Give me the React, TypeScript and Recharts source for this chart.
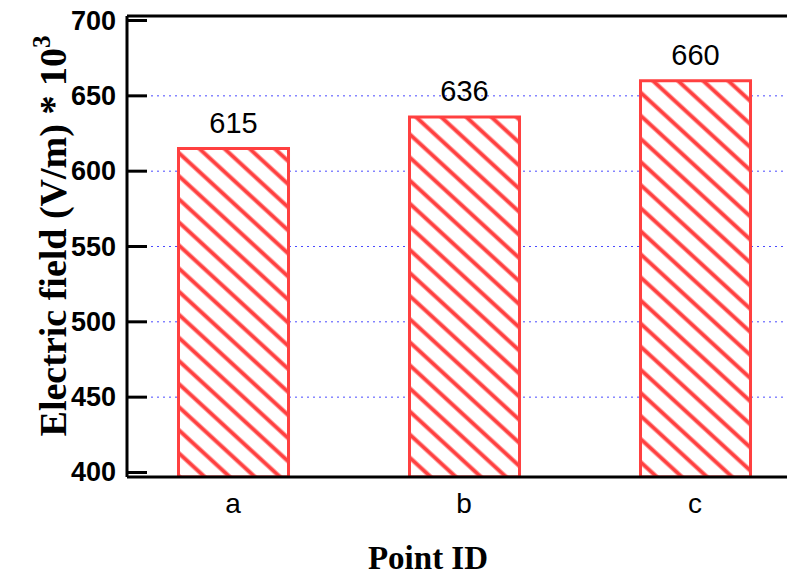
import React from 'react';
import { BarChart, Bar, XAxis, YAxis, CartesianGrid, ReferenceLine, LabelList } from 'recharts';

// values
const categories = ['a', 'b', 'c'];
const fieldValues = [615, 636, 660];
const yTicks = [400, 450, 500, 550, 600, 650, 700];
const gridValues = [450, 500, 550, 600, 650];

const data = categories.map((name, i) => ({ idx: i, name, value: fieldValues[i] }));

const RED = '#ff4040';
const SANS = '"Liberation Sans", Arial, sans-serif';
const SERIF = '"Liberation Serif", "Times New Roman", serif';

const YTick = (props: any) => {
  const { x, y, payload } = props;
  return (
    <g>
      <line x1={x} x2={x + 20} y1={y} y2={y} stroke="#000" strokeWidth={3} />
      <text x={x - 11} y={y} dy={9} textAnchor="end" fontFamily={SANS} fontWeight="bold" fontSize={27} fill="#000">
        {payload.value}
      </text>
    </g>
  );
};

const XTick = (props: any) => {
  const { x, y, payload } = props;
  return (
    <text x={x} y={y + 36} textAnchor="middle" fontFamily={SANS} fontSize={28} fill="#000">
      {categories[payload.value]}
    </text>
  );
};

export default function App() {
  return (
    <div style={{ position: 'absolute', left: 0, top: 0, width: 787, height: 576, overflow: 'hidden', background: '#fff' }}>
      <BarChart width={800} height={576} data={data} margin={{ top: 16, right: 0, left: 0, bottom: 0 }}>
        <defs>
          <pattern id="hatch" patternUnits="userSpaceOnUse" width={17} height={17} patternTransform="rotate(42.6)">
            <rect width={17} height={17} fill="#fff" />
            <line x1={0} y1={8.5} x2={17} y2={8.5} stroke={RED} strokeWidth={4} />
          </pattern>
        </defs>
        <CartesianGrid
          vertical={false}
          stroke="#4a4aff"
          strokeDasharray="2 4"
          horizontalValues={gridValues}
        />
        <XAxis
          type="number"
          dataKey="idx"
          domain={[-0.4589, 2.4545]}
          allowDataOverflow
          ticks={[0, 1, 2]}
          interval={0}
          tickLine={false}
          tickSize={0}
          tickMargin={0}
          tick={<XTick />}
          axisLine={{ stroke: '#000', strokeWidth: 3 }}
          height={99}
          label={{
            value: 'Point ID',
            content: () => (
              <text x={428} y={569} textAnchor="middle" fontFamily={SERIF} fontSize={33} fontWeight="bold" fill="#000">
                Point ID
              </text>
            ),
          }}
        />
        <YAxis
          type="number"
          domain={[397, 703]}
          allowDataOverflow
          ticks={yTicks}
          interval={0}
          width={127}
          tickLine={false}
          tickSize={0}
          tickMargin={0}
          tick={<YTick />}
          axisLine={{ stroke: '#000', strokeWidth: 3 }}
          label={{
            value: 'Electric field',
            content: () => (
              <text x={66} y={236} transform="rotate(-90 66 236)" textAnchor="middle" fontFamily={SERIF} fontSize={38} fontWeight="bold" fill="#000">
                Electric field (V/m) * 10
                <tspan dy={-16} fontSize={25}>3</tspan>
              </text>
            ),
          }}
        />
        <ReferenceLine y={703} stroke="#000" strokeWidth={3} />
        <Bar dataKey="value" barSize={110} fill="url(#hatch)" stroke={RED} strokeWidth={3} isAnimationActive={false}>
          <LabelList dataKey="value" position="top" offset={16} fontFamily={SANS} fontSize={29} fill="#000" />
        </Bar>
      </BarChart>
    </div>
  );
}
